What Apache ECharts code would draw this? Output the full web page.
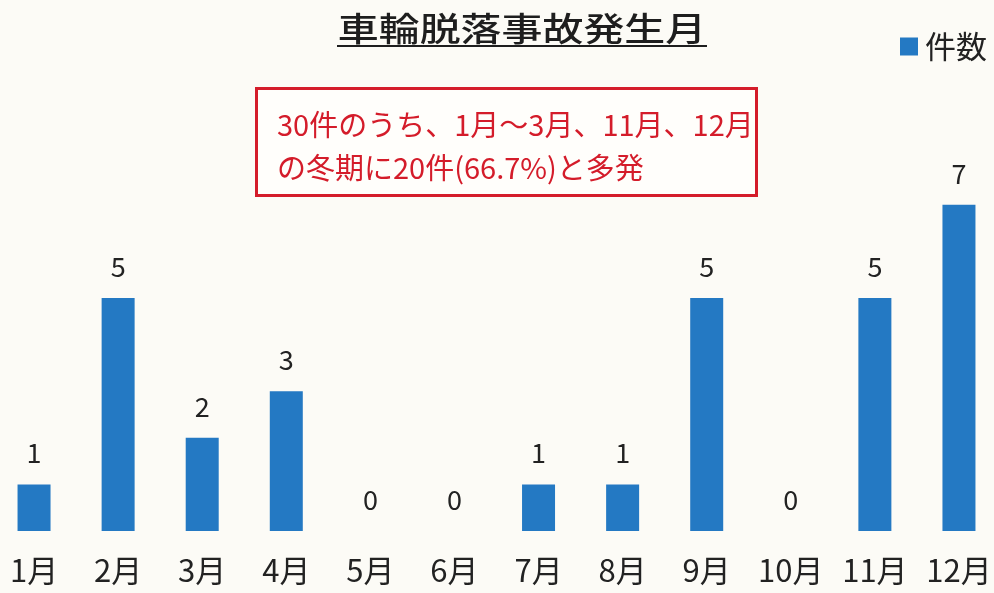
<!DOCTYPE html>
<html><head><meta charset="utf-8">
<script src="https://cdn.jsdelivr.net/npm/echarts@6/dist/echarts.min.js"></script>
<style>html,body{margin:0;padding:0;background:#fcfbf6;overflow:hidden}#c{position:absolute;left:-8px;top:0;width:1009px;height:593px}</style>
</head><body><div id="c"></div>
<script>
const categories = ['1月','2月','3月','4月','5月','6月','7月','8月','9月','10月','11月','12月'];
const counts = [1,5,2,3,0,0,1,1,5,0,5,7];
const seriesName = '件数';
const titleText = '車輪脱落事故発生月';
const noteLines = ['30件のうち、1月～3月、11月、12月', 'の冬期に20件(66.7%)と多発'];

const FONT = '"Noto Sans CJK JP","Noto Sans",sans-serif';
const RED = '#d41c2a';
const OX = 8; // container offset
const chart = echarts.init(document.getElementById('c'));
chart.setOption({
  backgroundColor: '#fcfbf6',
  animation: false,
  legend: {
    data: [seriesName], left: 895 + OX, top: 26, icon: 'rect', itemWidth: 18, itemHeight: 18, itemGap: 6,
    textStyle: {fontFamily: FONT, fontSize: 31, color: '#222', padding: [0,0,0,2]}
  },
  grid: {left: 0, right: 0, top: 65, bottom: 62},
  xAxis: {
    type: 'category', data: categories,
    axisLine: {show: false}, axisTick: {show: false},
    axisLabel: {fontFamily: FONT, fontSize: 31, color: '#222', margin: 24, interval: 0}
  },
  yAxis: {type: 'value', min: 0, max: 10, show: false, splitLine: {show: false}},
  series: [{
    name: seriesName, type: 'bar', data: counts, barWidth: 33,
    itemStyle: {color: '#2479c3'},
    label: {show: true, position: 'top', distance: 18, fontFamily: FONT, fontSize: 27, color: '#222'}
  }],
  graphic: [
    {type: 'text', x: 522 + OX, y: 28, scaleX: 1.24, style: {text: titleText, font: '500 33px ' + FONT, fill: '#1e1e1e', textAlign: 'center', textVerticalAlign: 'middle'}},
    {type: 'line', shape: {x1: 337 + OX, y1: 46, x2: 707 + OX, y2: 46}, style: {stroke: '#1e1e1e', lineWidth: 2}},
    {type: 'rect', shape: {x: 256.5 + OX, y: 88.5, width: 500, height: 107}, style: {fill: '#fffefb', stroke: RED, lineWidth: 3}},
    {type: 'text', x: 277 + OX, y: 125, style: {text: noteLines[0], font: '29px ' + FONT, fill: RED, textVerticalAlign: 'middle'}},
    {type: 'text', x: 277 + OX, y: 168, style: {text: noteLines[1], font: '29px ' + FONT, fill: RED, textVerticalAlign: 'middle'}}
  ]
});
</script></body></html>
